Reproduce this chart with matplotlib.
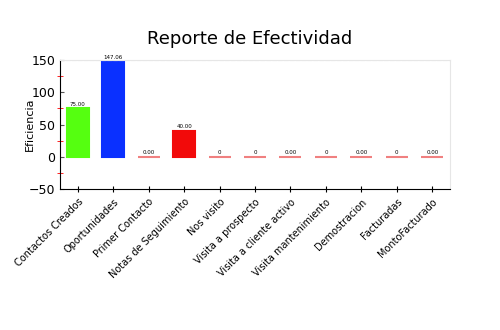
import matplotlib.pyplot as plt
from matplotlib.ticker import MultipleLocator

categorias = ['Contactos Creados', 'Oportunidades', 'Primer Contacto', 'Notas de Seguimiento',
              'Nos visito', 'Visita a prospecto', 'Visita a cliente activo',
              'Visita mantenimiento', 'Demostracion', 'Facturadas', 'MontoFacturado']
valores = [75.00, 147.06, 0.00, 40.00, 0, 0, 0.00, 0, 0.00, 0, 0.00]
etiquetas = ['75.00', '147.06', '0.00', '40.00', '0', '0', '0.00', '0', '0.00', '0', '0.00']
colores = ['#55ff10', '#0a30ff', '#f08080', '#f20a0a', '#f08080', '#f08080',
           '#f08080', '#f08080', '#f08080', '#f08080', '#f08080']

fig = plt.figure(figsize=(5, 3.3), dpi=100)
ax = fig.add_axes([0.12, 0.427, 0.78, 0.391])

x = range(len(categorias))
ax.bar(x, valores, width=0.62, color=colores, edgecolor=colores, linewidth=1.5)
for xi, v, txt in zip(x, valores, etiquetas):
    ax.text(xi, v + 3, txt, ha='center', va='bottom', fontsize=4)

ax.set_xlim(-0.5, 10.5)
ax.set_ylim(-50, 150)
ax.yaxis.set_major_locator(MultipleLocator(50))
ax.yaxis.set_minor_locator(MultipleLocator(25))
ax.tick_params(axis='y', which='major', direction='in', length=3, color='#555555', labelsize=9)
ax.tick_params(axis='y', which='minor', direction='inout', length=4, color='red')
ax.tick_params(axis='x', which='major', direction='inout', length=4, labelsize=7)
ax.set_xticks(list(x))
ax.set_xticklabels(categorias, rotation=45, ha='right', rotation_mode='anchor')
ax.set_ylabel('Eficiencia', fontsize=8)
ax.yaxis.set_label_coords(-0.065, 0.5)
ax.axhline(150, color='#dddddd', linewidth=0.8, linestyle='--')

for lado in ['top', 'right']:
    ax.spines[lado].set_color('#e6e6e6')

fig.suptitle('Reporte de Efectividad', fontsize=13, y=0.91)

fig.savefig('out.png')
